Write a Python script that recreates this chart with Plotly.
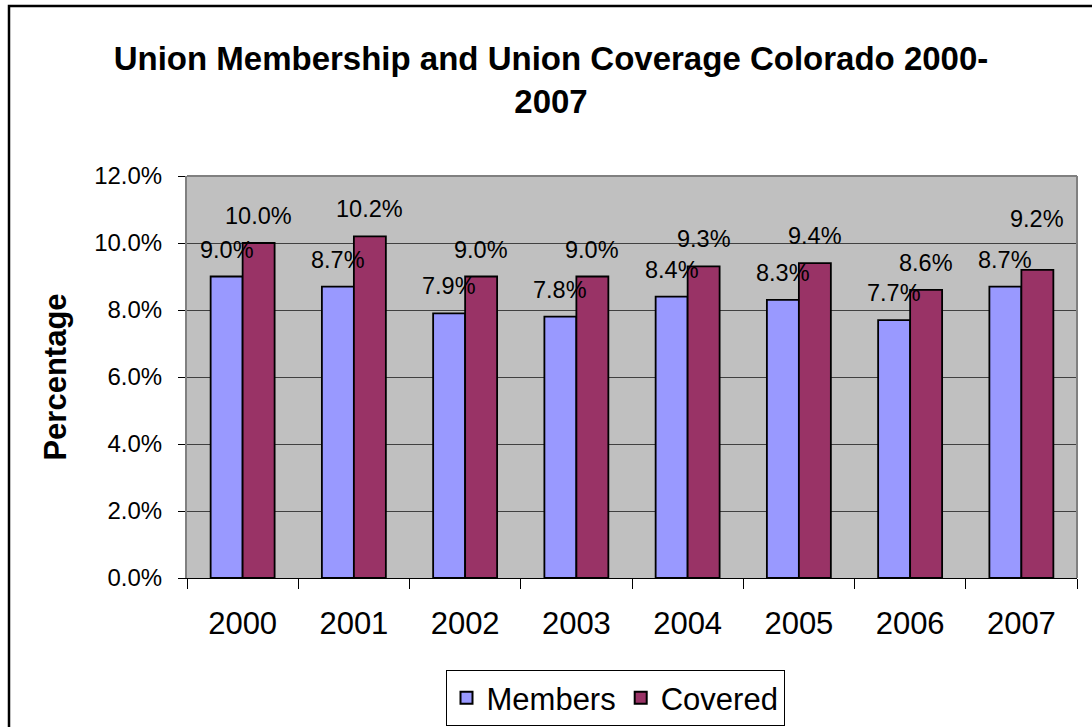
import plotly.graph_objects as go

years = ["2000", "2001", "2002", "2003", "2004", "2005", "2006", "2007"]
members = [0.090, 0.087, 0.079, 0.078, 0.084, 0.083, 0.077, 0.087]
covered = [0.100, 0.102, 0.090, 0.090, 0.093, 0.094, 0.086, 0.092]
y_ticks = [0.0, 0.02, 0.04, 0.06, 0.08, 0.10, 0.12]

W, H = 1092, 727
ML, MR, MT, MB = 187, 15, 176, 149
PW, PH = W - ML - MR, H - MT - MB

def px_x(p):
    return (p - ML) / PW

def px_y(p):
    return (H - MB - p) / PH

FONT = "Liberation Sans, Arial, sans-serif"

fig = go.Figure()
fig.add_trace(go.Bar(name="Members", x=years, y=members,
                     marker=dict(color="#9999FF", line=dict(color="#000000", width=1.8))))
fig.add_trace(go.Bar(name="Covered", x=years, y=covered,
                     marker=dict(color="#993366", line=dict(color="#000000", width=1.8))))

# data labels (Excel style: centred above each bar, lifted)
bar_off = 16
nudge = {("Covered", "2007"): 24}
for name, vals, sign in (("Members", members, -1), ("Covered", covered, 1)):
    for i, (yr, v) in enumerate(zip(years, vals)):
        fig.add_annotation(x=i, y=v, xref="x", yref="y", text=f"{v*100:.1f}%", showarrow=False,
                           xshift=sign * bar_off, yshift=27 + nudge.get((name, yr), 0),
                           yanchor="middle", xanchor="center",
                           font=dict(family=FONT, size=23.5, color="#000000"))

# outer chart border (left and top visible)
fig.add_shape(type="rect", xref="paper", yref="paper",
              x0=px_x(9), x1=px_x(1110), y0=px_y(745), y1=px_y(6),
              line=dict(color="#000000", width=2.5), fillcolor="rgba(0,0,0,0)", layer="above")

fig.update_layout(
    width=W, height=H,
    margin=dict(l=ML, r=MR, t=MT, b=MB, autoexpand=False),
    paper_bgcolor="#FFFFFF", plot_bgcolor="#C0C0C0",
    barmode="group", bargap=0.425, bargroupgap=0.0,
    font=dict(family=FONT, color="#000000"),
    title=dict(text="<b>Union Membership and Union Coverage Colorado 2000-<br>2007</b>",
               x=px_x(551), xanchor="center", xref="paper",
               y=1 - 70 / H, yanchor="middle", yref="container",
               font=dict(family=FONT, size=33, color="#000000")),
    showlegend=True,
    legend=dict(orientation="h", x=px_x(615), xanchor="center", y=px_y(698), yanchor="middle",
                bordercolor="#000000", borderwidth=1, bgcolor="#FFFFFF",
                font=dict(family=FONT, size=31, color="#000000"),
                itemsizing="constant", traceorder="normal"),
    xaxis=dict(type="category", range=[-0.5, len(years) - 0.5], showgrid=False,
               tickson="boundaries", ticks="outside",
               ticklen=10, tickcolor="#000000", showline=True, linecolor="#000000", linewidth=1,
               mirror=False, tickangle=0, tickfont=dict(family=FONT, size=31, color="#000000"),
               ticklabelstandoff=18),
    yaxis=dict(range=[0, 0.12], tickvals=y_ticks, tickformat=".1%",
               showgrid=True, gridcolor="#404040", gridwidth=1,
               ticks="outside", ticklen=7, tickcolor="#000000",
               showline=True, linecolor="#808080", linewidth=2, mirror=False,
               zeroline=False, tickfont=dict(family=FONT, size=24, color="#000000"),
               ticklabelstandoff=11,
               title=dict(text="<b>Percentage</b>", standoff=18,
                          font=dict(family=FONT, size=31, color="#000000"))),
)

# top and right plot-area frame
fig.add_shape(type="line", xref="paper", yref="paper", x0=0, x1=1, y0=1, y1=1,
              line=dict(color="#808080", width=2))
fig.add_shape(type="line", xref="paper", yref="paper", x0=1, x1=1, y0=0, y1=1,
              line=dict(color="#808080", width=2))

fig.write_html("out.html", config={"displayModeBar": False},
               post_script="document.body.style.margin='0';")
